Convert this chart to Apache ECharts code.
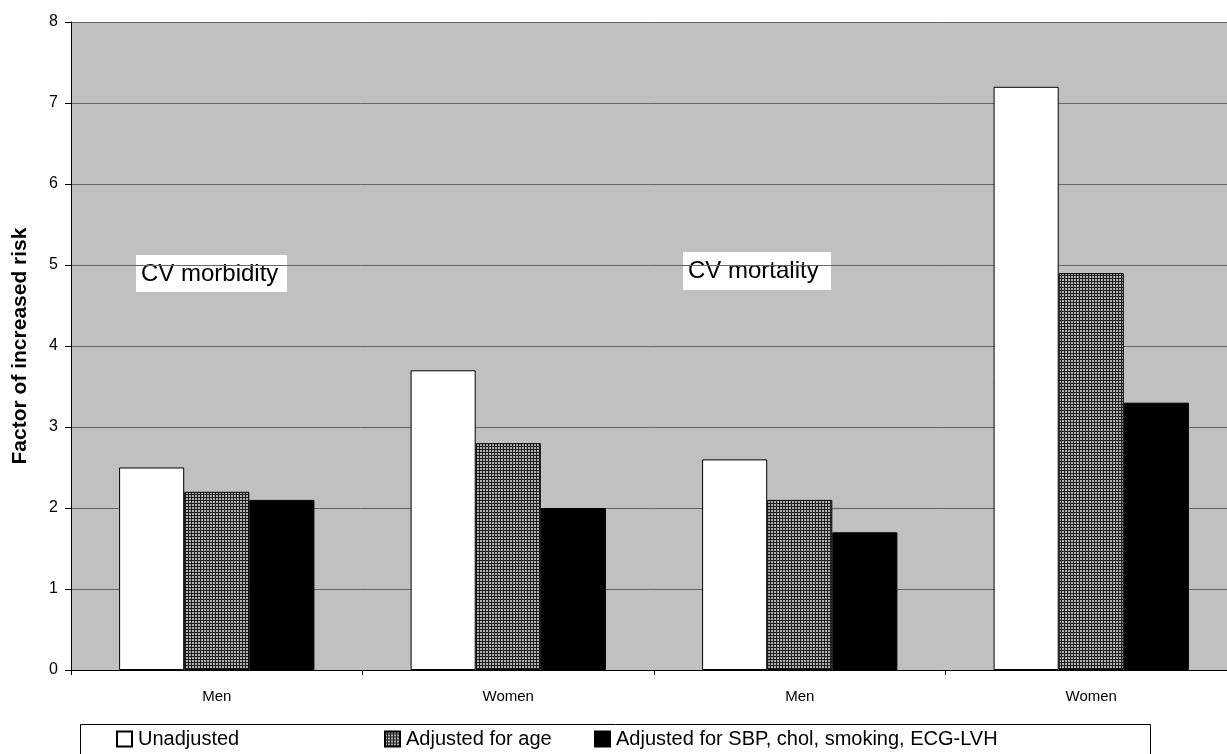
<!DOCTYPE html>
<html>
<head>
<meta charset="utf-8">
<script src="https://cdn.jsdelivr.net/npm/echarts@6/dist/echarts.min.js"></script>
<style>html,body{margin:0;padding:0;background:#fff}#c{width:1227px;height:754px}</style>
</head>
<body>
<div id="c"></div>
<script>
const categories = ['Men', 'Women', 'Men', 'Women'];
const unadjusted = [2.5, 3.7, 2.6, 7.2];
const adjustedAge = [2.2, 2.8, 2.1, 4.9];
const adjustedAll = [2.1, 2.0, 1.7, 3.3];
const seriesNames = ['Unadjusted', 'Adjusted for age', 'Adjusted for SBP, chol, smoking, ECG-LVH'];
const yTicks = [0, 1, 2, 3, 4, 5, 6, 7, 8];

// checker pattern for hatched bars
const pc = document.createElement('canvas');
pc.width = 3; pc.height = 3;
const pctx = pc.getContext('2d');
pctx.fillStyle = '#1e1e1e';
pctx.fillRect(0, 0, 3, 3);
pctx.fillStyle = '#b0b0b0';
pctx.fillRect(0, 0, 2, 2);
const pattern = { image: pc, repeat: 'repeat' };

const FONT = '"Liberation Sans", Arial, sans-serif';
const chart = echarts.init(document.getElementById('c'), null, { renderer: 'canvas' });

function legendAt(name, left) {
  return {
    data: [name], left: left, top: 729, orient: 'horizontal',
    itemWidth: 15, itemHeight: 15, itemGap: 0,
    textStyle: { fontFamily: FONT, fontSize: 20, color: '#000', padding: [0, 0, 0, 1] },
    padding: 0, selectedMode: false, icon: 'rect'
  };
}

chart.setOption({
  animation: false,
  backgroundColor: '#fff',
  grid: { left: 71, top: 22, right: -10, bottom: 84, show: true, backgroundColor: '#c0c0c0', borderWidth: 0,
          containLabel: false, outerBoundsMode: 'none' },
  xAxis: {
    type: 'category', data: categories,
    axisLine: { lineStyle: { color: '#000', width: 1 } },
    axisTick: { show: true, length: 5, lineStyle: { color: '#000' }, alignWithLabel: false },
    axisLabel: { fontFamily: FONT, fontSize: 15, color: '#000', margin: 19 },
    splitLine: { show: false }
  },
  yAxis: {
    type: 'value', min: yTicks[0], max: yTicks[yTicks.length - 1], interval: 1,
    name: 'Factor of increased risk', nameLocation: 'middle', nameGap: 40,
    nameTextStyle: { fontFamily: FONT, fontSize: 21, fontWeight: 'bold', color: '#000' },
    axisLine: { show: true, lineStyle: { color: '#000', width: 1 } },
    axisTick: { show: true, length: 6, lineStyle: { color: '#000' } },
    axisLabel: { fontFamily: FONT, fontSize: 16, color: '#000', margin: 13 },
    splitLine: { show: true, lineStyle: { color: '#666', width: 1 } }
  },
  legend: [
    legendAt(seriesNames[0], 116),
    legendAt(seriesNames[1], 384),
    legendAt(seriesNames[2], 594)
  ],
  series: [
    { name: seriesNames[0], type: 'bar', data: unadjusted, barGap: '0%', barCategoryGap: '33%',
      itemStyle: { color: '#fff', borderColor: '#000', borderWidth: 1 } },
    { name: seriesNames[1], type: 'bar', data: adjustedAge, barGap: '0%', barCategoryGap: '33%',
      itemStyle: { color: pattern, borderColor: '#000', borderWidth: 1 } },
    { name: seriesNames[2], type: 'bar', data: adjustedAll, barGap: '0%', barCategoryGap: '33%',
      itemStyle: { color: '#000', borderColor: '#000', borderWidth: 1 } }
  ],
  graphic: [
    { type: 'rect', shape: { x: 80.5, y: 724.5, width: 1070, height: 40 }, style: { fill: 'none', stroke: '#000', lineWidth: 1 }, z: 0 },
    { type: 'group', left: 136, top: 255, children: [
      { type: 'rect', shape: { x: 0, y: 0, width: 151, height: 37 }, style: { fill: '#fff' } },
      { type: 'text', x: 5, y: 19, style: { text: 'CV morbidity', font: '24px ' + FONT, fill: '#000', verticalAlign: 'middle' } }
    ]},
    { type: 'group', left: 683, top: 252, children: [
      { type: 'rect', shape: { x: 0, y: 0, width: 148, height: 38 }, style: { fill: '#fff' } },
      { type: 'text', x: 5, y: 19, style: { text: 'CV mortality', font: '24px ' + FONT, fill: '#000', verticalAlign: 'middle' } }
    ]}
  ]
});
</script>
</body>
</html>
